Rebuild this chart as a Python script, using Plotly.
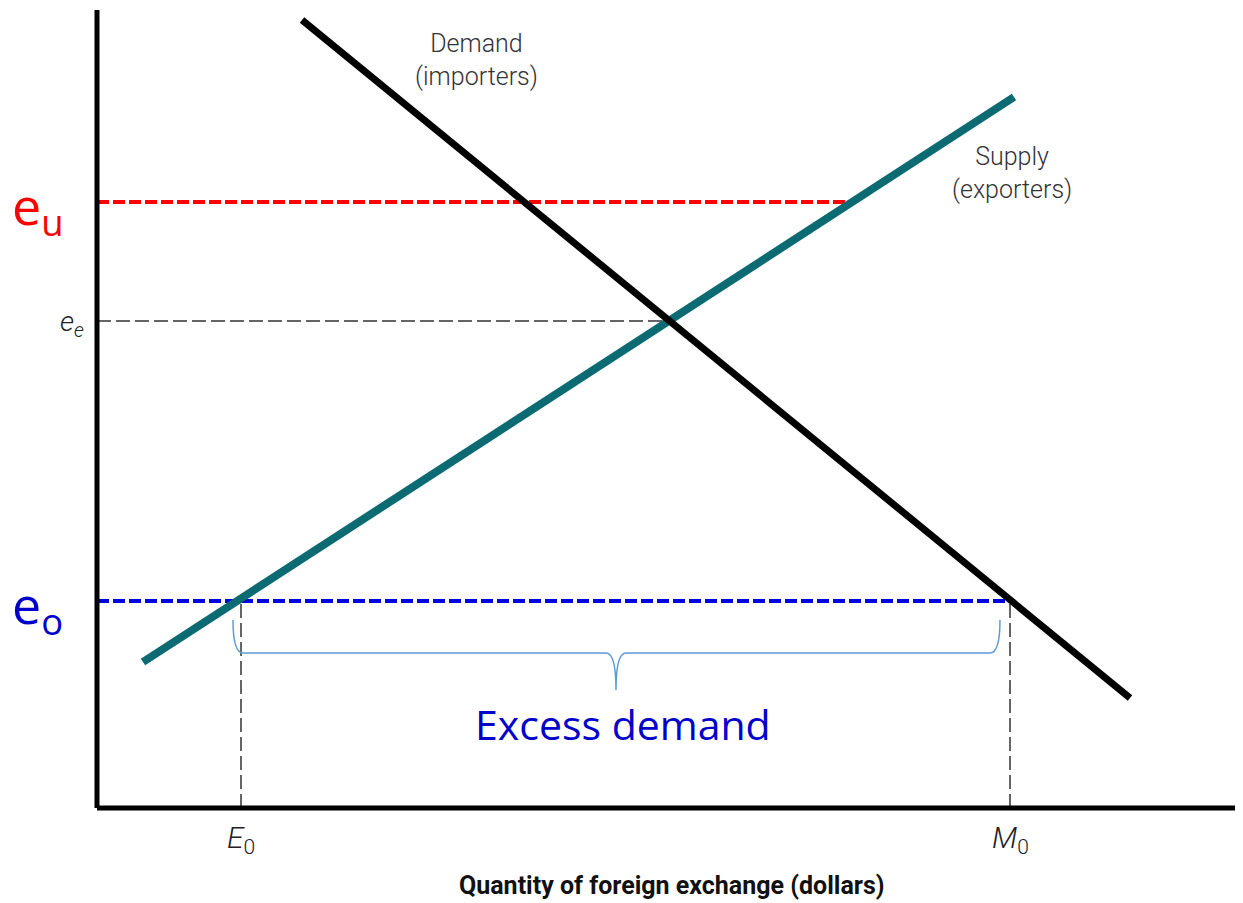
import plotly.graph_objects as go

# values (quantity, exchange rate)
demand_x = [20.5, 103.3]
demand_y = [78.8, 11.0]
supply_x = [4.6, 91.7]
supply_y = [14.6, 71.1]

e_u = 60.6
e_e = 48.7
e_o = 20.7
q_eu = 75.5   # supply quantity at e_u
q_ee = 57.2   # equilibrium quantity
E0 = 14.4
M0 = 91.3

brace_left, brace_right, brace_mid = 13.6, 90.3, 51.9
brace_top, brace_bar, brace_tip = 18.8, 15.5, 11.8

XMAX, YMAX = 114.6, 79.8

narrow = "Roboto, sans-serif"
calib = "Open Sans, Noto Sans, sans-serif"

fig = go.Figure()

# reference lines
fig.add_trace(go.Scatter(x=[0, q_eu], y=[e_u, e_u], mode="lines",
                         line=dict(color="#ff0000", width=4, dash="12px,4px")))
fig.add_trace(go.Scatter(x=[0, q_ee], y=[e_e, e_e], mode="lines",
                         line=dict(color="#333333", width=1.5, dash="14px,5px")))
fig.add_trace(go.Scatter(x=[0, M0], y=[e_o, e_o], mode="lines",
                         line=dict(color="#0000dd", width=4, dash="12px,4px")))
for q in [E0, M0]:
    fig.add_trace(go.Scatter(x=[q, q], y=[0, e_o], mode="lines",
                             line=dict(color="#333333", width=1.5, dash="14px,5px")))

# curves
fig.add_trace(go.Scatter(x=supply_x, y=supply_y, mode="lines",
                         line=dict(color="#0b6a72", width=8)))
fig.add_trace(go.Scatter(x=demand_x, y=demand_y, mode="lines",
                         line=dict(color="black", width=7)))

# brace under the gap
path = (f"M {brace_left},{brace_top} Q {brace_left},{brace_bar} {brace_left+1},{brace_bar} "
        f"L {brace_mid-1},{brace_bar} Q {brace_mid},{brace_bar} {brace_mid},{brace_tip} "
        f"Q {brace_mid},{brace_bar} {brace_mid+1},{brace_bar} "
        f"L {brace_right-1},{brace_bar} Q {brace_right},{brace_bar} {brace_right},{brace_top}")
fig.add_shape(type="path", path=path, xref="x", yref="y",
              line=dict(color="#5b9bd5", width=1.5))

# axes lines
fig.add_shape(type="line", xref="paper", yref="paper", x0=0, x1=0, y0=0, y1=1,
              line=dict(color="black", width=5))
fig.add_shape(type="line", xref="paper", yref="paper", x0=0, x1=1, y0=0, y1=0,
              line=dict(color="black", width=5))

# labels inside the plot area
inside = [
    dict(x=37.9, y=74.8, text="Demand<br>(importers)", font=dict(family=narrow, size=25, color="#333", weight=300)),
    dict(x=91.5, y=63.5, text="Supply<br>(exporters)", font=dict(family=narrow, size=25, color="#333", weight=300)),
    dict(x=52.6, y=8.4, text="Excess demand", font=dict(family=calib, size=41, color="#0000cc")),
]
for a in inside:
    fig.add_annotation(xref="x", yref="y", showarrow=False,
                       xanchor="center", yanchor="middle", **a)

# labels outside the plot area, placed in paper units
outside = [
    dict(x=-2.5, y=e_e - 0.3, text="<i>e<sub>e</sub></i>", font=dict(family=narrow, size=28, color="#222", weight=300)),
    dict(x=E0, y=-3.1, text="<i>E</i><sub>0</sub>", font=dict(family=narrow, size=30, color="#222", weight=300)),
    dict(x=M0, y=-3.1, text="<i>M</i><sub>0</sub>", font=dict(family=narrow, size=30, color="#222", weight=300)),
    dict(x=-5.9, y=e_u - 0.6, text="e<sub>u</sub>", font=dict(family=calib, size=52, color="#ff0000")),
    dict(x=-5.9, y=e_o - 0.6, text="e<sub>o</sub>", font=dict(family=calib, size=52, color="#0000cc")),
    dict(x=57.5, y=-7.7, text="<b>Quantity of foreign exchange (dollars)</b>",
         font=dict(family=narrow, size=25, color="#111")),
]
for a in outside:
    a["x"] = a["x"] / XMAX
    a["y"] = a["y"] / YMAX
    fig.add_annotation(xref="paper", yref="paper", showarrow=False,
                       xanchor="center", yanchor="middle", **a)

fig.update_layout(
    width=1243, height=903,
    margin=dict(l=89, r=8, t=2, b=103),
    paper_bgcolor="white", plot_bgcolor="white",
    showlegend=False,
    xaxis=dict(range=[0, XMAX], visible=False),
    yaxis=dict(range=[0, YMAX], visible=False),
)

fig.write_html("out.html")
